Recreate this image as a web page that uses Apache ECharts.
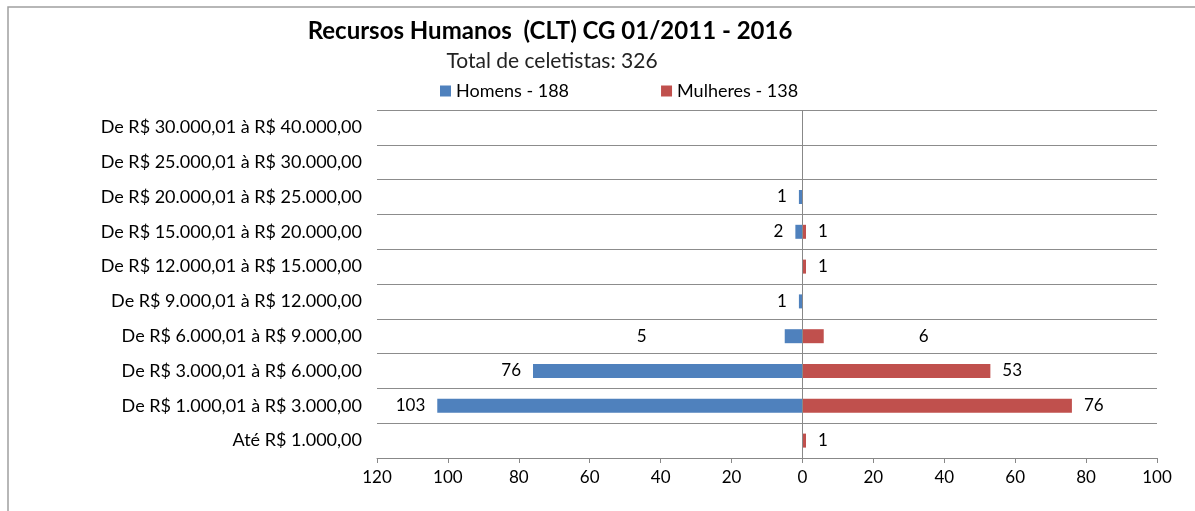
<!DOCTYPE html>
<html>
<head>
<meta charset="utf-8">
<script src="https://cdn.jsdelivr.net/npm/echarts@6/dist/echarts.min.js"></script>
<style>
    html, body { margin: 0; padding: 0; background: #fff; }
    #chart { width: 1195px; height: 511px; }
</style>
</head>
<body>
<div id="chart"></div>
<script>
// Salary bands, bottom to top
const categories = [
    'Até R$ 1.000,00',
    'De R$ 1.000,01 à R$ 3.000,00',
    'De R$ 3.000,01 à R$ 6.000,00',
    'De R$ 6.000,01 à R$ 9.000,00',
    'De R$ 9.000,01 à R$ 12.000,00',
    'De R$ 12.000,01 à R$ 15.000,00',
    'De R$ 15.000,01 à R$ 20.000,00',
    'De R$ 20.000,01 à R$ 25.000,00',
    'De R$ 25.000,01 à R$ 30.000,00',
    'De R$ 30.000,01 à R$ 40.000,00'
];
const homens = [0, 103, 76, 5, 1, 0, 2, 1, 0, 0];
const mulheres = [1, 76, 53, 6, 0, 1, 1, 0, 0, 0];
const xTicks = { min: -120, max: 100, interval: 20 };

const FONT = 'Lato, "Open Sans", sans-serif';

document.addEventListener('DOMContentLoaded', function() {
    const chart = echarts.init(document.getElementById('chart'));

    // Excel put a couple of labels far from their bars
    const menFar = { 3: 138 };
    const womenFar = { 3: 95 };

    const menData = homens.map((v, i) => {
        const item = { value: -v };
        if (menFar[i]) item.label = { distance: menFar[i] };
        return item;
    });
    const womenData = mulheres.map((v, i) => {
        const item = { value: v };
        if (womenFar[i]) item.label = { distance: womenFar[i] };
        return item;
    });

    const labelFmt = p => (p.value === 0 ? '' : Math.abs(p.value));

    const option = {
        animation: false,
        title: [
            {
                text: 'Recursos Humanos  (CLT) CG 01/2011 - 2016',
                left: 545,
                textAlign: 'center',
                top: 14,
                textStyle: { fontFamily: FONT, fontSize: 24, fontWeight: 'bold', color: '#000' }
            },
            {
                text: 'Total de celetistas: 326',
                left: 547,
                textAlign: 'center',
                top: 46,
                textStyle: { fontFamily: FONT, fontSize: 21, fontWeight: 'normal', color: '#222' }
            }
        ],
        legend: {
            top: 77,
            left: 435,
            itemWidth: 11,
            itemHeight: 11,
            itemGap: 92,
            icon: 'rect',
            textStyle: { fontFamily: FONT, fontSize: 18, color: '#000' },
            data: ['Homens - 188', 'Mulheres - 138']
        },
        grid: { left: 377, right: 38, top: 110, bottom: 53 },
        xAxis: {
            type: 'value',
            min: xTicks.min,
            max: xTicks.max,
            interval: xTicks.interval,
            axisLine: { show: true, lineStyle: { color: '#888' } },
            axisTick: { show: true, length: 5, lineStyle: { color: '#888' } },
            splitLine: { show: false },
            axisLabel: {
                formatter: v => Math.abs(v),
                fontFamily: FONT,
                fontSize: 17,
                color: '#000',
                margin: 11
            }
        },
        yAxis: {
            type: 'category',
            data: categories,
            axisLine: { show: false },
            axisTick: { show: false },
            splitLine: { show: true, lineStyle: { color: '#8c8c8c' } },
            axisLabel: { fontFamily: FONT, fontSize: 18, color: '#000', margin: 15 }
        },
        series: [
            {
                name: 'Homens - 188',
                type: 'bar',
                barWidth: 14,
                barGap: '-100%',
                itemStyle: { color: '#4F81BD' },
                label: {
                    show: true,
                    position: 'left',
                    distance: 12,
                    formatter: labelFmt,
                    fontFamily: FONT,
                    fontSize: 17,
                    color: '#000'
                },
                data: menData
            },
            {
                name: 'Mulheres - 138',
                type: 'bar',
                barWidth: 14,
                itemStyle: { color: '#C0504D' },
                label: {
                    show: true,
                    position: 'right',
                    distance: 12,
                    formatter: labelFmt,
                    fontFamily: FONT,
                    fontSize: 17,
                    color: '#000'
                },
                markLine: {
                    silent: true,
                    symbol: 'none',
                    label: { show: false },
                    lineStyle: { color: '#888', type: 'solid', width: 1 },
                    data: [{ xAxis: 0 }]
                },
                data: womenData
            }
        ],
        graphic: [
            {
                type: 'polyline',
                silent: true,
                shape: { points: [[8, 511], [8, 7], [1195, 7]] },
                style: { stroke: '#a0a0a0', lineWidth: 1.5, fill: null }
            }
        ]
    };

    chart.setOption(option);
});
</script>
</body>
</html>
